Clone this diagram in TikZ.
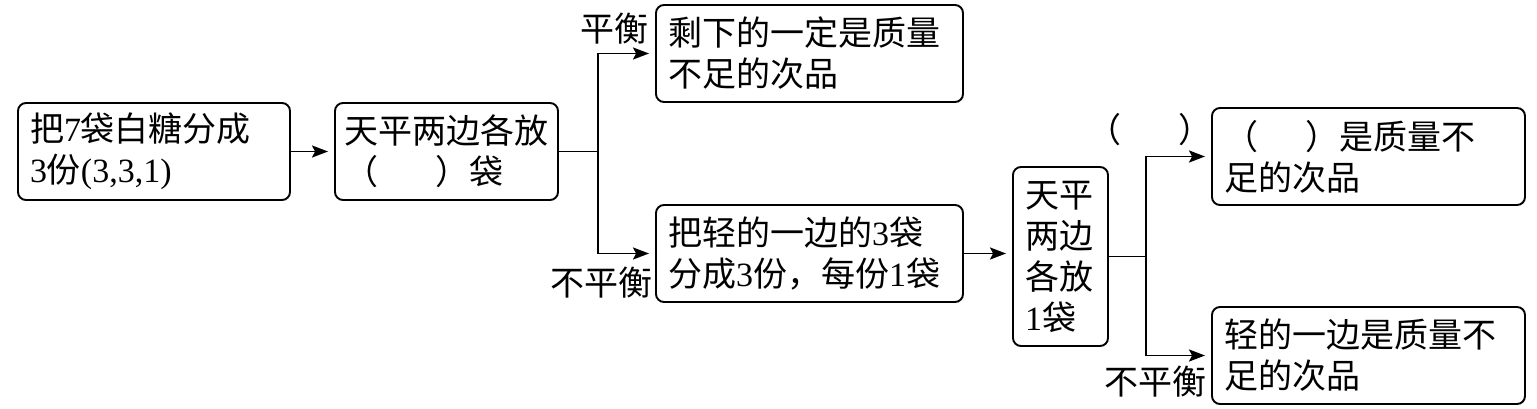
\documentclass[tikz,border=0pt]{standalone}
\usepackage{fontspec}
\setmainfont{Noto Sans CJK SC}
\newfontfamily\lat{Liberation Serif}
\usetikzlibrary{arrows.meta}

\begin{document}
\begin{tikzpicture}[
		x=1pt,y=-1pt,
		every node/.style={font=\fontsize{34}{41}\selectfont},
		stepbox/.style={draw,rounded corners=8pt,line width=1.9pt,align=left,inner xsep=12pt,inner ysep=6pt,minimum height=97pt},
		link/.style={line width=1.9pt},
		flow/.style={line width=1.9pt,-{Stealth[length=16pt,width=12pt,inset=3pt]},shorten >=6pt}
		]
		\useasboundingbox (0,0) rectangle (1537,409);
		% first weighing
		\node[stepbox,text width=248pt] (sort) at (154,151.5) {把{\lat 7}袋白糖分成\\{\lat 3}份{\lat (3,3,1)}};
		\node[stepbox,text width=205pt,inner xsep=9pt] (weigh) at (446.5,151.5) {天平两边各放\\（\hspace{1.7em}）袋};
		\node[stepbox,text width=283pt] (rest) at (809.5,53.5) {剩下的一定是质量\\不足的次品};
		\node[stepbox,text width=283pt] (light) at (809.5,253.5) {把轻的一边的{\lat 3}袋\\分成{\lat 3}份，每份{\lat 1}袋};
		% second weighing
		\node[stepbox,text width=71pt,minimum height=179pt] (weightwo) at (1060.5,256.5) {天平\\两边\\各放\\{\lat 1}袋};
		\node[stepbox,text width=289pt] (found) at (1368.5,156.5) {（\hspace{1.4em}）是质量不\\足的次品};
		\node[stepbox,text width=289pt] (lighter) at (1368.5,355.5) {轻的一边是质量不\\足的次品};
		% labels
		\node (even) at (614,29) {平衡};
		\node (uneven) at (601,283) {不平衡};
		\node (blank) at (1150,130) {（\hspace{1.7em}）};
		\node (uneventwo) at (1155,382) {不平衡};
		% connectors
		\draw[flow] (sort) -- (weigh);
		\draw[link] (weigh.east) -- ++(39,0) coordinate (fork);
		\draw[flow] (fork) |- (rest);
		\draw[flow] (fork) |- (light);
		\draw[flow] (light.east) -- (light.east -| weightwo.west);
		\draw[link] (weightwo.east) -- ++(37,0) coordinate (forktwo);
		\draw[flow] (forktwo) |- (found);
		\draw[flow] (forktwo) |- (lighter);
	\end{tikzpicture}
\end{document}
